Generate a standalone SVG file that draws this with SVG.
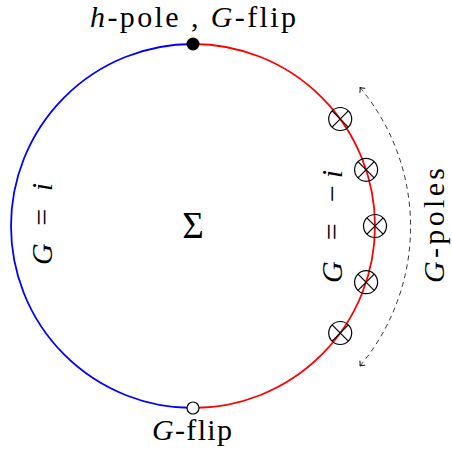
<svg xmlns="http://www.w3.org/2000/svg" width="452" height="457" viewBox="0 0 452 457">
<style>
text{font-family:"Liberation Serif","DejaVu Serif",serif;fill:#000;font-size:30px}
.it{font-style:italic}
</style>
<defs>
<marker id="ah" viewBox="-5 -4 6 8" markerWidth="6" markerHeight="8" refX="0" refY="0" orient="auto-start-reverse" markerUnits="userSpaceOnUse">
<path d="M-4,-3.5 Q-1.5,-0.8 0,0 Q-1.5,0.8 -4,3.5" fill="none" stroke="#000" stroke-width="0.9"/>
</marker>
<g id="otimes" fill="none" stroke="#000" stroke-width="1.2">
<circle cx="0" cy="0" r="11.5"/>
<path d="M-8.1,-8.1 L8.1,8.1 M-8.1,8.1 L8.1,-8.1"/>
</g>
</defs>
<g id="connectors">
<path id="blue-arc" d="M193,44 A182,182 0 0 0 193,408" fill="none" stroke="#0000ff" stroke-width="1.8"/>
<path id="red-arc" d="M193,44 A182,182 0 0 1 193,408" fill="none" stroke="#ff0000" stroke-width="1.8"/>
<path id="poles-arrow" d="M360,87.5 A217,217 0 0 1 360,366" fill="none" stroke="#000" stroke-width="0.8" stroke-dasharray="5,4" marker-start="url(#ah)" marker-end="url(#ah)"/>
</g>
<g id="h-pole">
<circle cx="193" cy="44" r="6.5" fill="#000"/>
<text x="90" y="27" textLength="206" lengthAdjust="spacing"><tspan class="it">h</tspan>-pole , <tspan class="it">G</tspan>-flip</text>
</g>
<g id="g-flip">
<circle cx="193" cy="408" r="6" fill="#fff" stroke="#000" stroke-width="1.2"/>
<text x="152" y="440" textLength="80" lengthAdjust="spacing"><tspan class="it">G</tspan>-flip</text>
</g>
<g id="sigma"><text x="193" y="238" text-anchor="middle" style="font-size:37px">Σ</text></g>
<g id="label-left"><text transform="translate(52,265) rotate(-90)" textLength="82" lengthAdjust="spacing"><tspan class="it">G</tspan> = <tspan class="it">i</tspan></text></g>
<g id="label-right"><text transform="translate(342,283) rotate(-90)" textLength="113" lengthAdjust="spacing"><tspan class="it">G</tspan> = −<tspan class="it">i</tspan></text></g>
<g id="label-poles"><text transform="translate(444,283) rotate(-90)" textLength="115" lengthAdjust="spacing"><tspan class="it">G</tspan>-poles</text></g>
<g id="poles">
<use href="#otimes" x="340.2" y="119"/>
<use href="#otimes" x="366.1" y="169.8"/>
<use href="#otimes" x="375" y="226"/>
<use href="#otimes" x="366.1" y="282.2"/>
<use href="#otimes" x="340.2" y="333"/>
</g>
</svg>
